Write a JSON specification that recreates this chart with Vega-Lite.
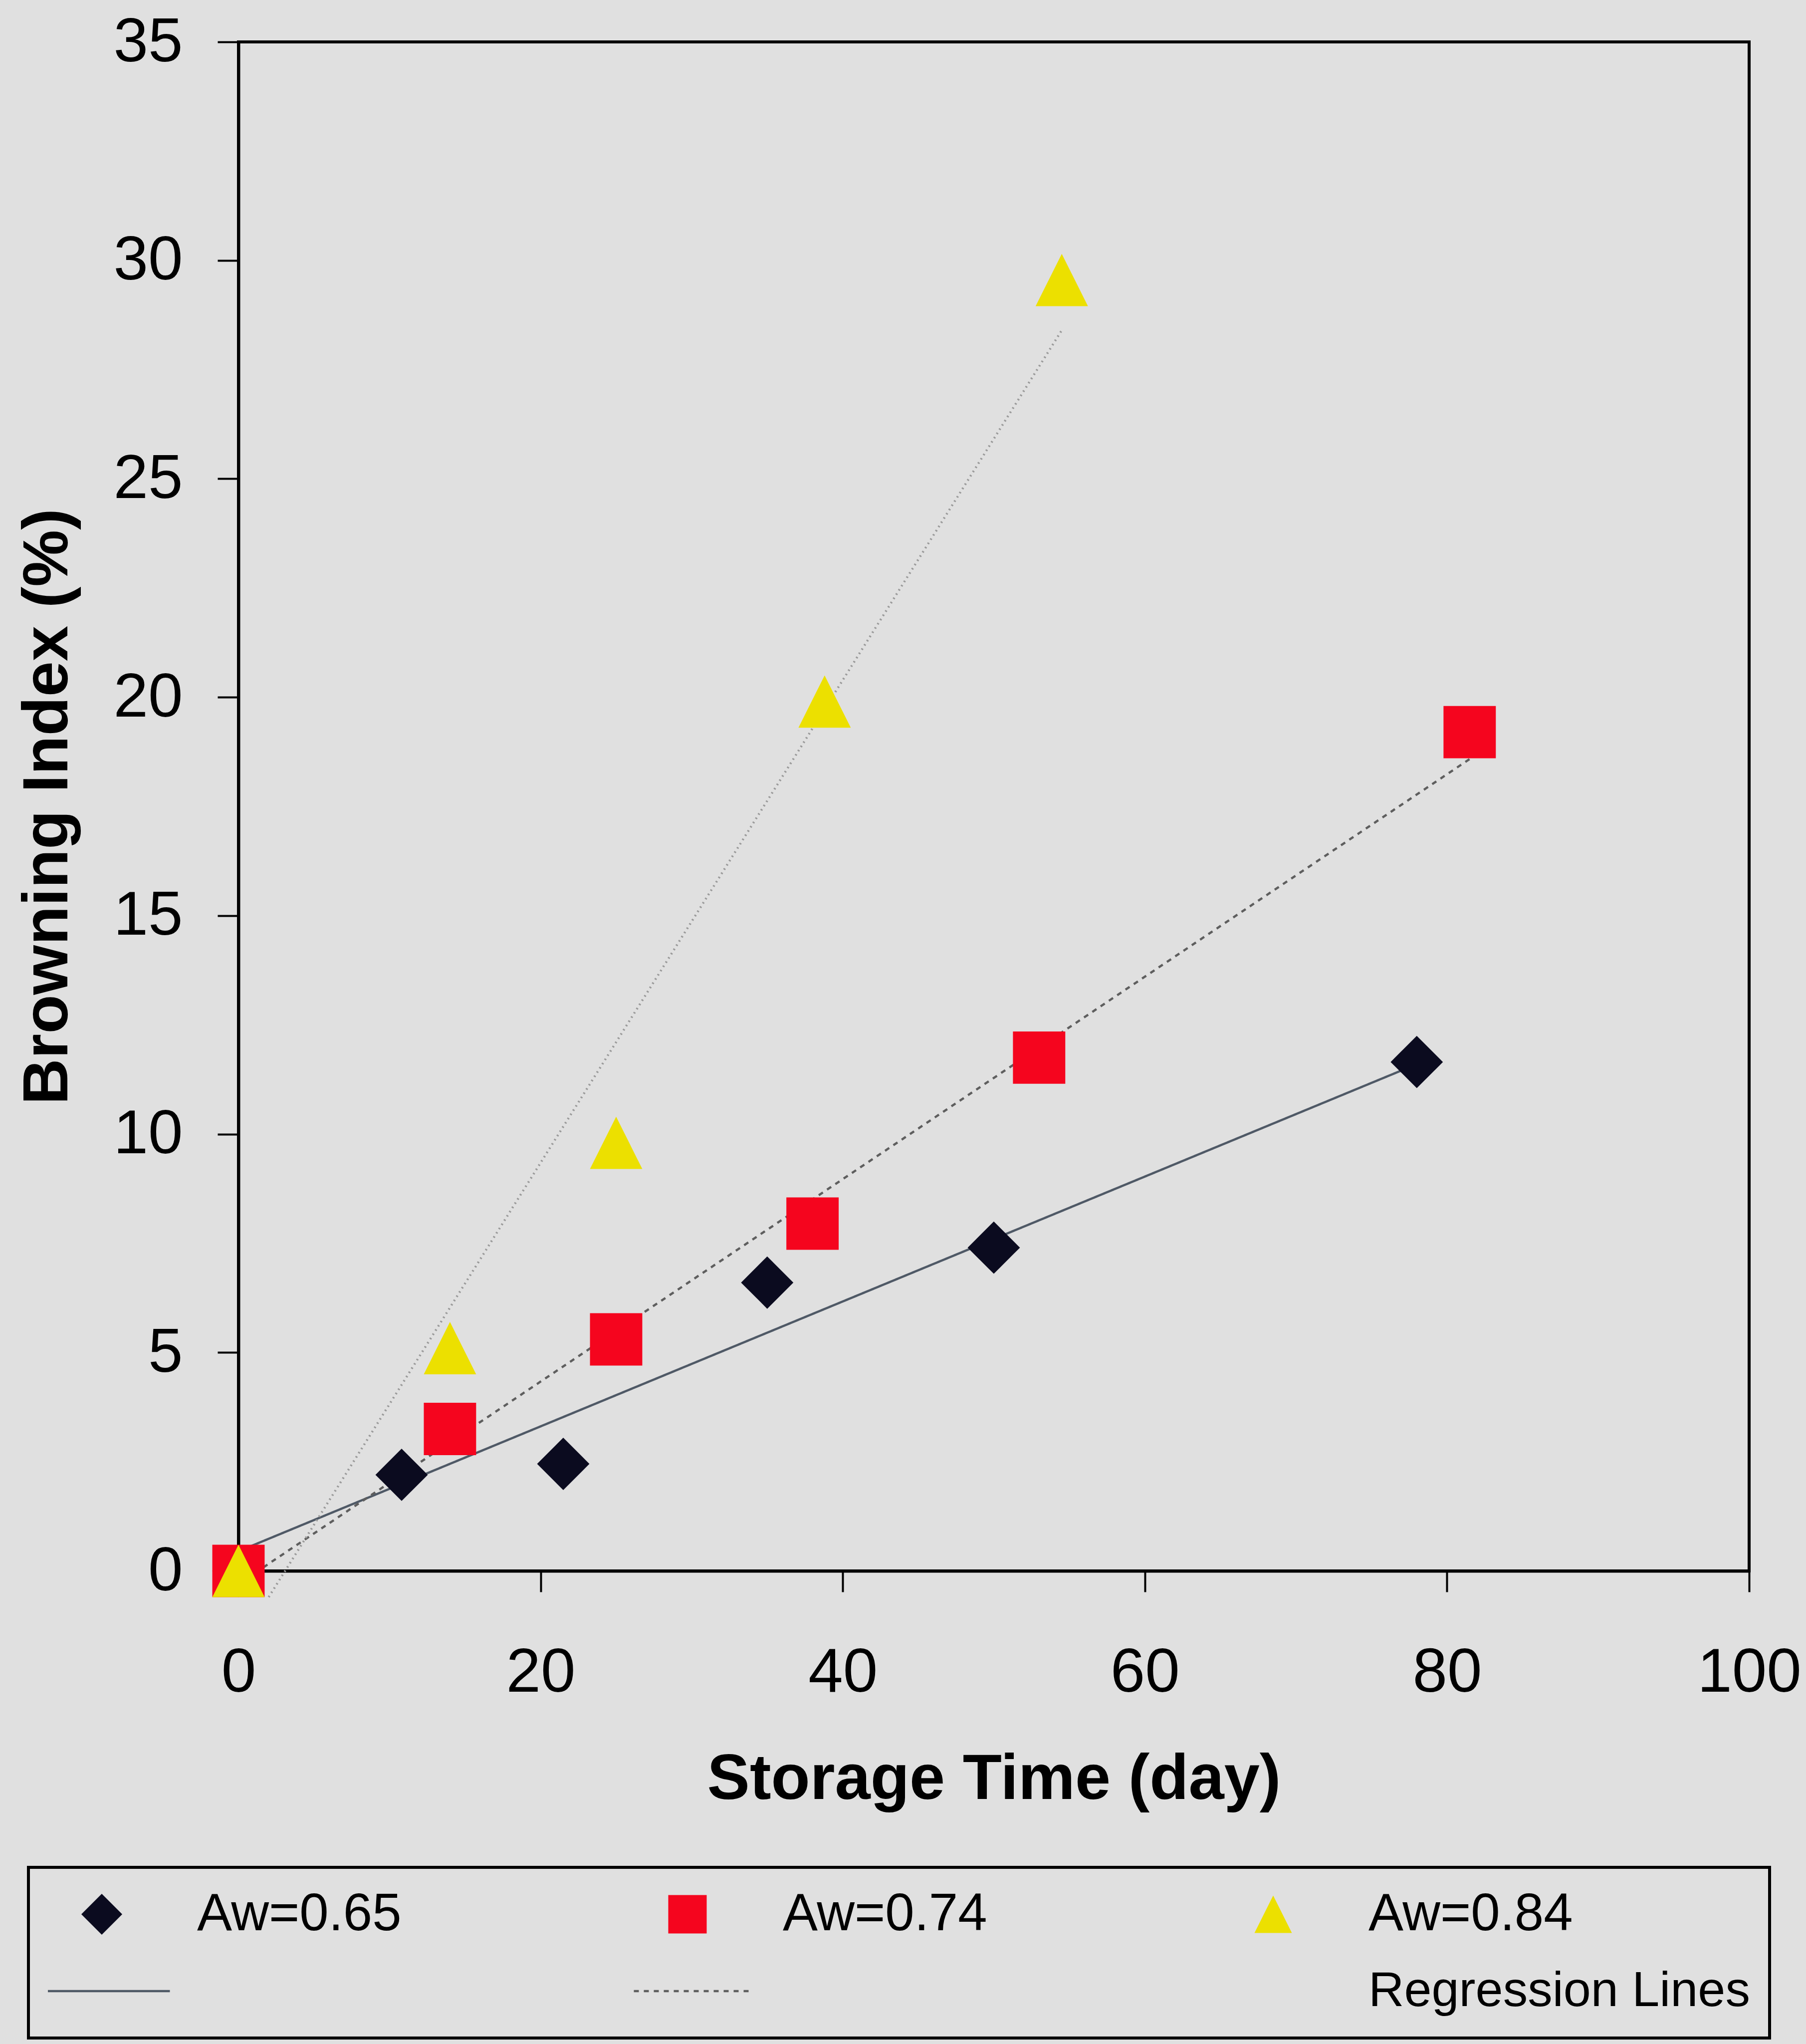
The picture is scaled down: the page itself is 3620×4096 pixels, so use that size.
{
  "$schema": "https://vega.github.io/schema/vega-lite/v6.json",
  "width": 3028,
  "height": 3064,
  "autosize": {"type": "none"},
  "padding": {"left": 478, "top": 84, "right": 114, "bottom": 948},
  "background": "#e0e0e0",
  "config": {
    "font": "Liberation Sans",
    "view": {"stroke": "black", "strokeWidth": 6},
    "axis": {
      "grid": false,
      "domainColor": "black",
      "domainWidth": 6,
      "tickColor": "black",
      "tickWidth": 4,
      "tickSize": 42,
      "labelFont": "Liberation Sans",
      "labelFontSize": 125,
      "labelColor": "black",
      "labelLimit": 2000,
      "titleFont": "Liberation Sans",
      "titleFontWeight": "bold",
      "titleFontSize": 128,
      "titleColor": "black",
      "titleLimit": 4000,
      "labelFlush": false,
      "labelOverlap": false,
      "labelBound": false
    }
  },
  "layer": [
    {
      "data": {
        "values": [
          {"line": "L1", "day": 0, "bi": 0.45},
          {"line": "L1", "day": 78, "bi": 11.6},
          {"line": "L2", "day": 0, "bi": -0.3},
          {"line": "L2", "day": 82, "bi": 18.7},
          {"line": "L3", "day": 2, "bi": -0.6},
          {"line": "L3", "day": 54.5, "bi": 28.4}
        ]
      },
      "mark": {"type": "line", "strokeWidth": 4.5},
      "encoding": {
        "x": {
          "field": "day", "type": "quantitative",
          "scale": {"domain": [0, 100], "nice": false},
          "axis": {"title": "Storage Time (day)", "values": [0, 20, 40, 60, 80, 100], "format": "d", "labelPadding": 100, "titlePadding": 155}
        },
        "y": {
          "field": "bi", "type": "quantitative",
          "scale": {"domain": [0, 35], "nice": false},
          "axis": {"title": "Browning Index (%)", "values": [0, 5, 10, 15, 20, 25, 30, 35], "format": "d", "labelPadding": 70, "titlePadding": 117}
        },
        "stroke": {
          "field": "line", "type": "nominal",
          "scale": {"domain": ["L1", "L2", "L3"], "range": ["#4f5966", "#5e5e5e", "#9a9a9a"]},
          "legend": null
        },
        "strokeDash": {
          "field": "line", "type": "nominal",
          "scale": {"domain": ["L1", "L2", "L3"], "range": [[1, 0], [10, 10], [3, 7]]},
          "legend": null
        }
      }
    },
    {
      "data": {
        "values": [
          {"key": "Aw=0.65", "day": 0, "bi": 0},
          {"key": "Aw=0.65", "day": 10.8, "bi": 2.2},
          {"key": "Aw=0.65", "day": 21.5, "bi": 2.45},
          {"key": "Aw=0.65", "day": 35, "bi": 6.6},
          {"key": "Aw=0.65", "day": 50, "bi": 7.4},
          {"key": "Aw=0.65", "day": 78, "bi": 11.65},
          {"key": "Aw=0.74", "day": 0, "bi": 0},
          {"key": "Aw=0.74", "day": 14, "bi": 3.25},
          {"key": "Aw=0.74", "day": 25, "bi": 5.3},
          {"key": "Aw=0.74", "day": 38, "bi": 7.95},
          {"key": "Aw=0.74", "day": 53, "bi": 11.75},
          {"key": "Aw=0.74", "day": 81.5, "bi": 19.2},
          {"key": "Aw=0.84", "day": 0, "bi": 0},
          {"key": "Aw=0.84", "day": 14, "bi": 5.1},
          {"key": "Aw=0.84", "day": 25, "bi": 9.8},
          {"key": "Aw=0.84", "day": 38.8, "bi": 19.9},
          {"key": "Aw=0.84", "day": 54.5, "bi": 29.55}
        ]
      },
      "mark": {"type": "point", "filled": true, "size": 11000, "opacity": 1, "strokeWidth": 0},
      "encoding": {
        "x": {"field": "day", "type": "quantitative"},
        "y": {"field": "bi", "type": "quantitative"},
        "color": {
          "field": "key", "type": "nominal",
          "scale": {
            "domain": ["Aw=0.65", "Aw=0.74", "Aw=0.84", "L1", "L2", "Regression Lines"],
            "range": ["#0b0b1f", "#f5051e", "#ece000", "#4f5966", "#5e5e5e", "transparent"]
          },
          "legend": {
            "title": null,
            "orient": "none",
            "direction": "horizontal",
            "legendX": -421,
            "legendY": 3658,
            "columns": 3,
            "gridAlign": "all",
            "columnPadding": 110,
            "rowPadding": 44,
            "padding": 39,
            "clipHeight": 110,
            "symbolOffset": -31,
            "labelOffset": 52,
            "labelFont": "Liberation Sans",
            "labelFontSize": 105,
            "labelColor": "black",
            "labelLimit": 3000,
            "symbolOpacity": 1,
            "labelExpr": "datum.label == 'L1' || datum.label == 'L2' ? '' : datum.label",
            "encode": {
              "labels": {
                "update": {
                  "fontSize": {"signal": "(datum.label == 'Regression Lines' ? 99 : 105)"}
                }
              },
              "symbols": {
                "update": {
                  "size": {"signal": "((datum.value||datum)=='L1' ? 74529 : (datum.value||datum)=='L2' ? 65025 : (datum.value||datum)=='Aw=0.65' ? 6724 : (datum.value||datum)=='Aw=0.74' ? 5929 : 5625)"},
                  "stroke": {"scale": "color", "field": "value"},
                  "strokeWidth": {"signal": "(((datum.value||datum)=='L1' || (datum.value||datum)=='L2') ? 4.5 : 0)"},
                  "strokeDash": {"signal": "((datum.value||datum)=='L2' ? [10,10] : [1,0])"},
                  "opacity": {"value": 1}
                }
              },
              "legend": {
                "update": {"stroke": {"value": "black"}, "strokeWidth": {"value": 6}}
              }
            }
          }
        },
        "shape": {
          "field": "key", "type": "nominal",
          "scale": {
            "domain": ["Aw=0.65", "Aw=0.74", "Aw=0.84", "L1", "L2", "Regression Lines"],
            "range": ["diamond", "square", "M0,-1L1,1L-1,1Z", "stroke", "stroke", "circle"]
          }
        }
      }
    }
  ]
}
